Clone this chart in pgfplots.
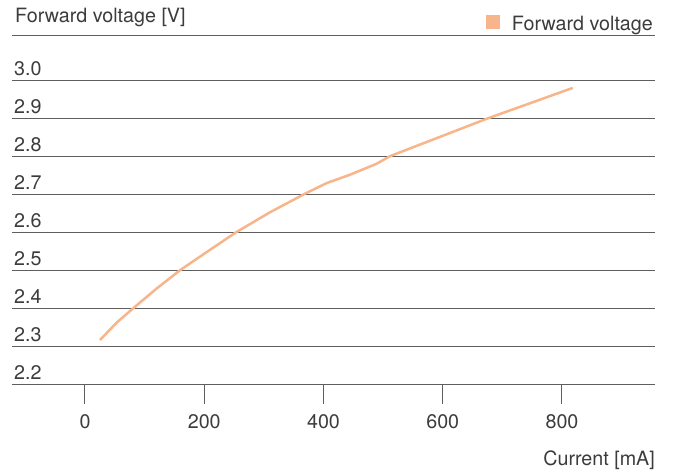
\documentclass[border=0pt]{standalone}
\usepackage{fontspec}
\setmainfont{TeX Gyre Heros}
\usepackage{pgfplots}
\pgfplotsset{compat=1.18}
\definecolor{txt}{HTML}{3C3C3C}
\definecolor{grid}{HTML}{5E5E5E}
\definecolor{curve}{HTML}{F8B48A}
\newcommand{\fs}{\fontsize{19.7bp}{23bp}\selectfont}
\begin{document}
\begin{tikzpicture}[font=\fs\color{txt}]
\useasboundingbox (-12bp,-88bp) rectangle (661bp,384bp);
\begin{axis}[
  scale only axis,
  width=643bp, height=348bp,
  xmin=-122.4, xmax=956,
  ymin=2.2, ymax=3.118,
  axis x line=bottom,
  axis y line=left,
  y axis line style={draw=none},
  x axis line style={draw=grid, line width=1bp, -},
  xtick={0,200,400,600,800},
  ytick={2.2,2.3,2.4,2.5,2.6,2.7,2.8,2.9,3.0},
  yticklabels={2.2,2.3,2.4,2.5,2.6,2.7,2.8,2.9,3.0},
  extra y ticks={3.118},
  extra y tick labels={},
  extra y tick style={grid=major, major grid style={draw=grid, line width=1bp}},
  ymajorgrids,
  major grid style={draw=grid, line width=1bp},
  ytick style={draw=none},
  xtick style={draw=grid, line width=1bp},
  tick align=outside,
  major tick length=20bp,
  /pgf/number format/assume math mode=true,
  tick label style={font=\fs, text=txt},
  yticklabel style={anchor=base west, xshift=22bp, yshift=5bp, inner sep=0pt},
  xticklabel style={anchor=north, yshift=-7bp},
  xlabel={Current [mA]},
  xlabel style={at={(axis description cs:1,0)}, anchor=base east, yshift=-81bp, inner sep=0pt, font=\fs, text=txt},
  title={Forward voltage [V]},
  title style={at={(axis description cs:0,1)}, anchor=base west, xshift=3bp, yshift=8bp, inner sep=0pt, font=\fs, text=txt},
  legend style={at={(axis description cs:1,1)}, anchor=base east, yshift=12bp, draw=none, fill=none, inner sep=0pt, font=\fs, text=txt},
  legend image code/.code={\path[draw=none,fill=none] (0bp,0bp) -- (24bp,0bp); \fill[curve,draw=none] (0bp,-5bp) rectangle (14bp,9bp);},
  clip=false,
]
\addplot[curve, line width=2.5bp, line join=round] coordinates {
(25.2,2.316) (53.2,2.362) (81,2.4) (120.3,2.452) (159.3,2.5) (204.1,2.548) (253.2,2.6) (310.3,2.653) (369,2.702) (405.4,2.73) (444.4,2.752) (489.2,2.781) (511.5,2.801) (584,2.845) (676,2.901) (724,2.928) (818,2.981)
};
\addlegendentry{Forward voltage}
\end{axis}
\end{tikzpicture}
\end{document}
